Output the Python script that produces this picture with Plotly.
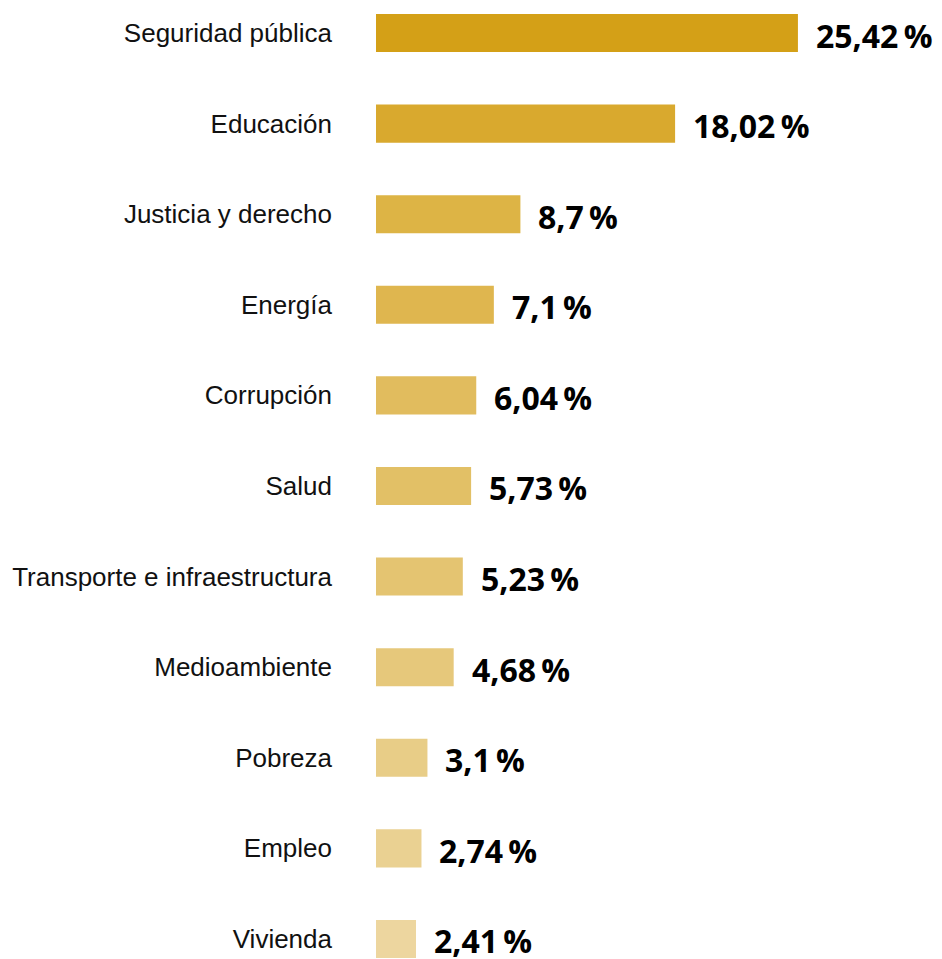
import plotly.graph_objects as go

categories = ["Seguridad pública", "Educación", "Justicia y derecho", "Energía", "Corrupción",
              "Salud", "Transporte e infraestructura", "Medioambiente", "Pobreza", "Empleo", "Vivienda"]
values = [25.42, 18.02, 8.7, 7.1, 6.04, 5.73, 5.23, 4.68, 3.1, 2.74, 2.41]
value_labels = ["25,42\u2009%", "18,02\u2009%", "8,7\u2009%", "7,1\u2009%", "6,04\u2009%", "5,73\u2009%",
                "5,23\u2009%", "4,68\u2009%", "3,1\u2009%", "2,74\u2009%", "2,41\u2009%"]
bar_colors = ["#D4A017", "#D9A92E", "#DDB445", "#DFB64F", "#E1BC5E", "#E2C066",
              "#E4C471", "#E6C87B", "#E8CD87", "#EAD192", "#EDD69F"]

fig = go.Figure()
fig.add_trace(go.Bar(
    x=values, y=categories, orientation="h",
    marker=dict(color=bar_colors, line=dict(width=0)),
    width=0.42, hoverinfo="skip",
))

for v, c, t in zip(values, categories, value_labels):
    fig.add_annotation(
        x=v, y=c, text=t, showarrow=False, xanchor="left", yanchor="middle",
        xshift=16, yshift=-2,
        font=dict(family="Open Sans", size=32, color="#000000", weight="bold"),
    )

fig.update_layout(
    width=934, height=951,
    margin=dict(l=368, r=0, t=0, b=0),
    paper_bgcolor="white", plot_bgcolor="white",
    showlegend=False,
    xaxis=dict(range=[0, 34.1], visible=False, fixedrange=True),
    yaxis=dict(
        type="category",
        range=[10.221, -0.276],
        showgrid=False, zeroline=False, showline=False,
        ticks="", ticklabelstandoff=43,
        tickfont=dict(family="Liberation Sans", size=26, color="#111111"),
    ),
)

fig.write_html("out.html")
